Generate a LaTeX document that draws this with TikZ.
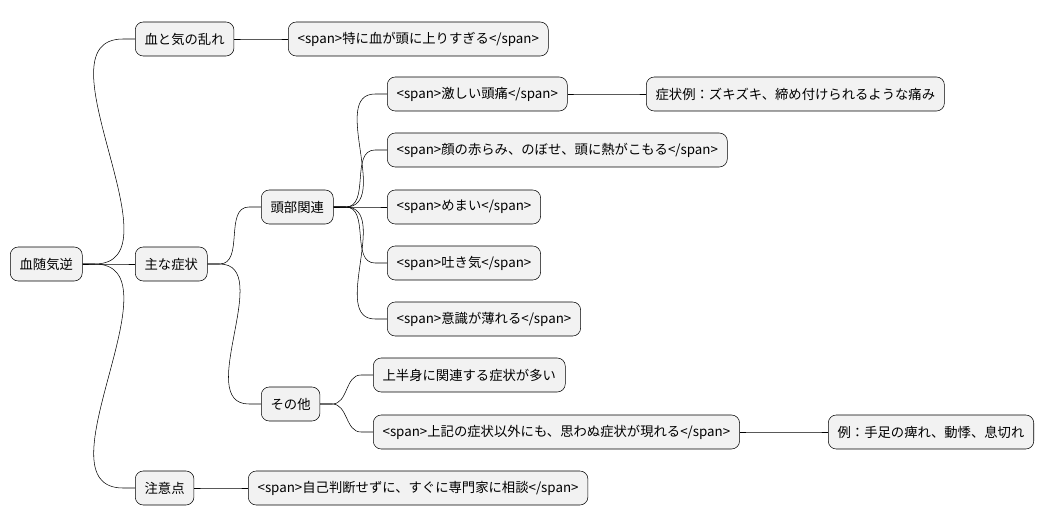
\documentclass[tikz,border=0pt]{standalone}
\usepackage{fontspec}
\setmainfont{Noto Sans CJK JP}
\usetikzlibrary{positioning,calc}
\begin{document}
\begin{tikzpicture}[x=0.75pt,y=-0.75pt]
        % Define block styles
        \tikzset{topic/.style={rectangle, draw, fill=gray!10, rounded corners=6pt, minimum height=34*0.75pt, inner xsep=7pt, anchor=west, font=\fontsize{10}{12}\selectfont},
                 link/.style={draw, thin}}
        \useasboundingbox (0,0) rectangle (1055,527);

        % Nodes
        \node [topic] (Root) at (10,264) {血随気逆};
        \node [topic] (Disorder) at (135,39) {血と気の乱れ};
        \node [topic] (Rise) at (288,39) {<span>特に血が頭に上りすぎる</span>};
        \node [topic] (Symptoms) at (135,264) {主な症状};
        \node [topic] (Head) at (261,207) {頭部関連};
        \node [topic] (Pain) at (387,94) {<span>激しい頭痛</span>};
        \node [topic] (PainEx) at (646,94) {症状例：ズキズキ、締め付けられるような痛み};
        \node [topic] (Face) at (387,150) {<span>顔の赤らみ、のぼせ、頭に熱がこもる</span>};
        \node [topic] (Dizzy) at (387,207) {<span>めまい</span>};
        \node [topic] (Nausea) at (387,263) {<span>吐き気</span>};
        \node [topic] (Faint) at (387,319) {<span>意識が薄れる</span>};
        \node [topic] (Other) at (261,404) {その他};
        \node [topic] (Upper) at (373,375) {上半身に関連する症状が多い};
        \node [topic] (Misc) at (373,432) {<span>上記の症状以外にも、思わぬ症状が現れる</span>};
        \node [topic] (MiscEx) at (828,432) {例：手足の痺れ、動悸、息切れ};
        \node [topic] (Caution) at (135,488) {注意点};
        \node [topic] (Consult) at (248,488) {<span>自己判断せずに、すぐに専門家に相談</span>};

        % Arrows
        \foreach \a/\b in {Root/Disorder, Disorder/Rise, Root/Symptoms, Symptoms/Head,
                Head/Pain, Pain/PainEx, Head/Face, Head/Dizzy, Head/Nausea, Head/Faint,
                Symptoms/Other, Other/Upper, Other/Misc, Misc/MiscEx, Root/Caution, Caution/Consult}
            \path [link] (\a.east) -- ++(12,0) to[out=0,in=180] ($(\b.west)+(-12,0)$) -- (\b.west);
    \end{tikzpicture}
\end{document}
